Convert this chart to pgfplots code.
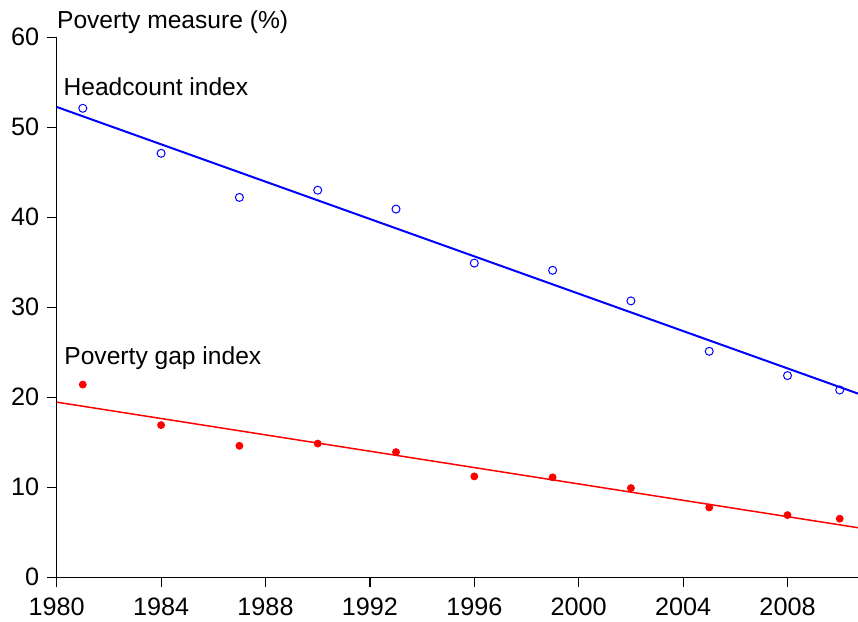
\documentclass[border=0pt]{standalone}
\usepackage{fontspec}
\setmainfont{Liberation Sans}
\usepackage{pgfplots}
\pgfplotsset{compat=1.18}
\usetikzlibrary{calc}
\definecolor{pblue}{RGB}{0,0,255}
\definecolor{pred}{RGB}{255,0,0}
\begin{document}
\fontsize{12.3pt}{14pt}\selectfont
\begin{tikzpicture}
\begin{axis}[
  name=ax,
  scale only axis,
  width=400.65pt, height=270pt,
  xmin=1980, xmax=2010.7,
  ymin=0, ymax=60,
  axis x line*=bottom, axis y line*=left,
  axis line style={line width=0.6pt, black},
  xtick={1980,1984,...,2008},
  ytick={0,10,...,60},
  tick align=outside,
  major tick length=5pt,
  tick style={line width=0.6pt, black},
  /pgf/number format/1000 sep={},
  /pgf/number format/assume math mode=true,
  tick label style={font=\fontsize{12.6pt}{14pt}\selectfont},
  xticklabel style={yshift=-1pt},
  yticklabel style={xshift=0.5pt},
  clip=false,
]
\addplot[pblue, line width=1pt] coordinates {(1980,52.25) (2010.7,20.4)};
\addplot[pred, line width=0.75pt] coordinates {(1980,19.45) (2010.7,5.5)};
\addplot[only marks, mark=o, mark size=2pt, mark options={pblue, line width=0.5pt}] coordinates {
(1981,52.1) (1984,47.1) (1987,42.2) (1990,43.0) (1993,40.9) (1996,34.9)
(1999,34.1) (2002,30.7) (2005,25.1) (2008,22.4) (2010,20.8)};
\addplot[only marks, mark=*, mark size=1.75pt, mark options={pred, draw=pred, fill=pred}] coordinates {
(1981,21.4) (1984,16.9) (1987,14.6) (1990,14.85) (1993,13.9) (1996,11.2)
(1999,11.1) (2002,9.9) (2005,7.75) (2008,6.9) (2010,6.5)};
\node[anchor=base west, inner sep=0pt] at (axis cs:1980.25,53.5) {Headcount index};
\node[anchor=base west, inner sep=0pt] at (axis cs:1980.28,23.6) {Poverty gap index};
\node[anchor=base west, inner sep=0pt, yshift=4.35pt] at (axis cs:1980,60) {Poverty measure (\%)};
\end{axis}
\pgfresetboundingbox
\useasboundingbox ($(ax.south west)+(-28.35pt,-22.4pt)$) rectangle ($(ax.north east)+(0,18.6pt)$);
\end{tikzpicture}
\end{document}
